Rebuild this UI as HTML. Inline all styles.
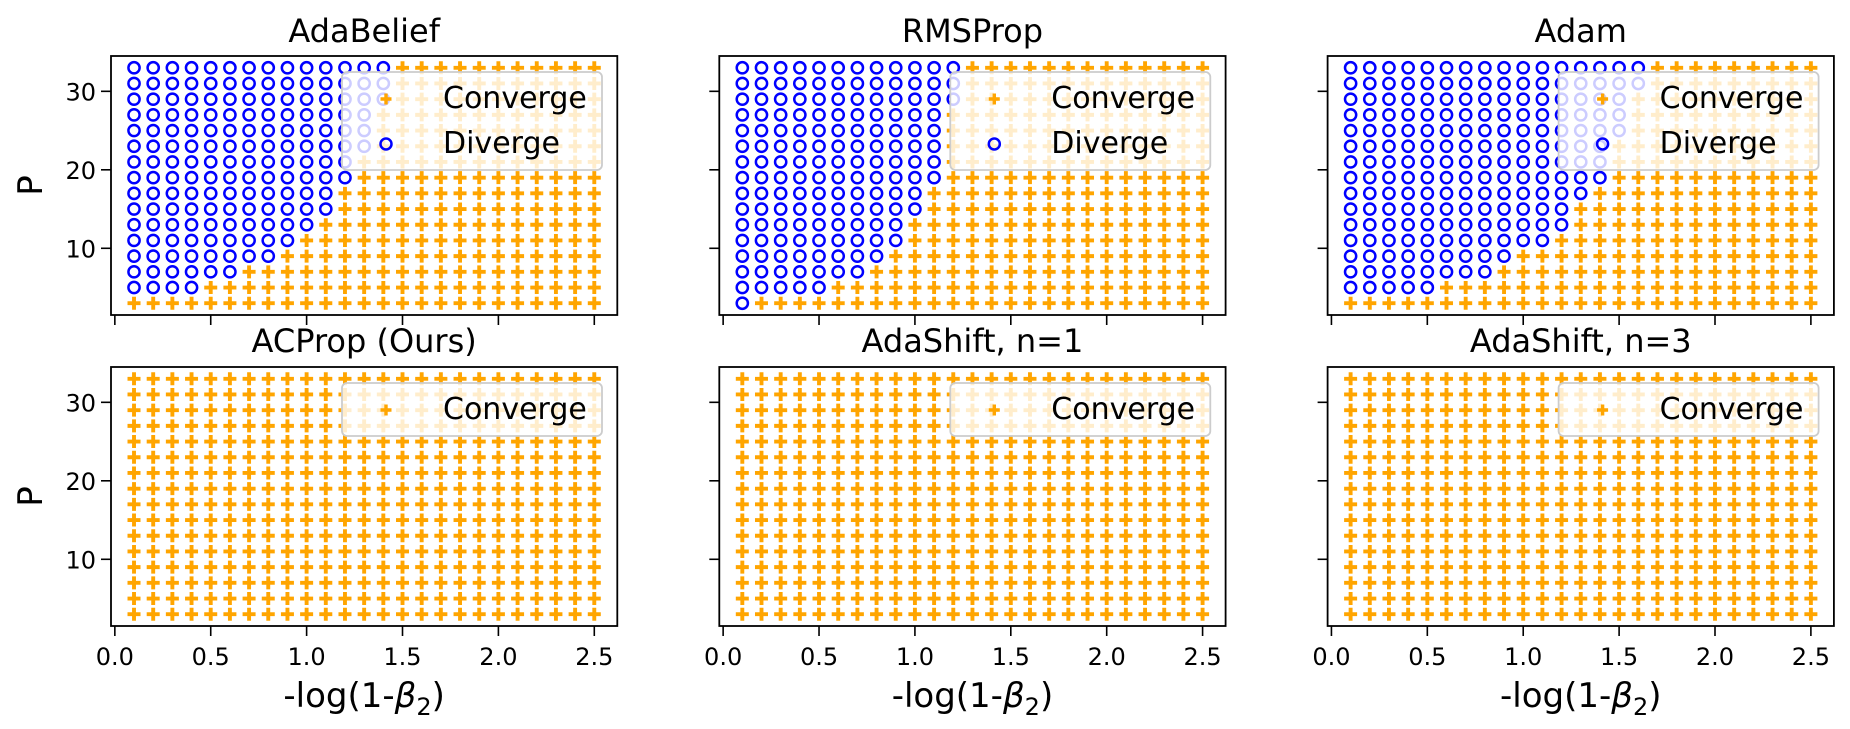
<!DOCTYPE html>
<html><head><meta charset="utf-8"><style>
html,body{margin:0;padding:0;background:#fff;}
svg{display:block;font-family:"DejaVu Sans","Liberation Sans",sans-serif;}
</style></head><body>
<svg id="fig" width="1850" height="729" viewBox="0 0 1850 729" xmlns="http://www.w3.org/2000/svg"></svg>
<script>
// ---- data ----
const xValues = [0.1,0.2,0.3,0.4,0.5,0.6,0.7,0.8,0.9,1.0,1.1,1.2,1.3,1.4,1.5,1.6,1.7,1.8,1.9,2.0,2.1,2.2,2.3,2.4,2.5];
const pValues = [3,5,7,9,11,13,15,17,19,21,23,25,27,29,31,33];
// smallest P that diverges in each column (99 = none diverge)
const divAdaBelief = [5,5,5,5,7,7,9,9,11,13,15,19,23,29,99,99,99,99,99,99,99,99,99,99,99];
const divRMSProp   = [3,5,5,5,5,7,7,9,11,15,19,29,99,99,99,99,99,99,99,99,99,99,99,99,99];
const divAdam      = [5,5,5,5,5,7,7,7,9,11,11,13,17,19,25,31,99,99,99,99,99,99,99,99,99];
const divNone      = [99,99,99,99,99,99,99,99,99,99,99,99,99,99,99,99,99,99,99,99,99,99,99,99,99];
const panelTitles = ["AdaBelief","RMSProp","Adam","ACProp (Ours)","AdaShift, n=1","AdaShift, n=3"];
const xTicks = [0.0,0.5,1.0,1.5,2.0,2.5];
const xTickLabels = ["0.0","0.5","1.0","1.5","2.0","2.5"];
const yTicks = [10,20,30];
const yTickLabels = ["10","20","30"];

const NS = "http://www.w3.org/2000/svg";
const svg = document.getElementById("fig");
function mk(tag, attrs, parent){const e=document.createElementNS(NS,tag);for(const k in attrs)e.setAttribute(k,attrs[k]);(parent||svg).appendChild(e);return e;}

const lefts=[111,719.3,1327.6], tops=[56,367], W=506.3, H=259;
const xMin=-0.02,xMax=2.62,yMin=1.5,yMax=34.5;
const ORANGE="#ffa500", BLUE="#0000ff";

function plusPath(cx,cy,a,t){return `M${cx-t/2},${cy-a}h${t}v${a-t/2}h${a-t/2}v${t}h${-(a-t/2)}v${a-t/2}h${-t}v${-(a-t/2)}h${-(a-t/2)}v${-t}h${a-t/2}z`;}

const divSets=[divAdaBelief,divRMSProp,divAdam,divNone,divNone,divNone];
const slugs=["adabelief","rmsprop","adam","acprop","adashift-n1","adashift-n3"];

for(let i=0;i<6;i++){
  const row=Math.floor(i/3), col=i%3;
  const L=lefts[col], T=tops[row];
  const sx=v=>L+(v-xMin)/(xMax-xMin)*W;
  const sy=v=>T+H-(v-yMin)/(yMax-yMin)*H;
  const g=mk("g",{});
  
  
  const title=mk("text",{x:L+W/2,y:row===0?42:352,"text-anchor":"middle","font-size":"32"},g);
  title.textContent=panelTitles[i];
  
  
  const marks=mk("g",{},g);
  
  
  const div=divSets[i];
  xValues.forEach((xv,ci)=>{
    pValues.forEach(pv=>{
      const cx=sx(xv), cy=sy(pv);
      if(pv>=div[ci]){
        const c=mk("circle",{cx:cx,cy:cy,r:5.6,fill:"none",stroke:BLUE,"stroke-width":2.5},marks);
        
        
      } else {
        const p=mk("path",{d:plusPath(cx,cy,6.5,3.9),fill:ORANGE},marks);
        
        
      }
    });
  });
  const frame=mk("rect",{x:L,y:T,width:W,height:H,fill:"none",stroke:"#000","stroke-width":1.8},g);
  
  
  xTicks.forEach((tv,k)=>{
    const x=sx(tv);
    const t=mk("line",{x1:x,x2:x,y1:T+H,y2:T+H+10,stroke:"#000","stroke-width":1.6},g);
    
    
    if(row===1){
      const lb=mk("text",{x:x,y:T+H+39,"text-anchor":"middle","font-size":"24"},g);
      lb.textContent=xTickLabels[k];
      
      
    }
  });
  yTicks.forEach((tv,k)=>{
    const y=sy(tv);
    const t=mk("line",{x1:L-10,x2:L,y1:y,y2:y,stroke:"#000","stroke-width":1.6},g);
    
    
    if(col===0){
      const lb=mk("text",{x:L-15,y:y+9,"text-anchor":"end","font-size":"24"},g);
      lb.textContent=yTickLabels[k];
      
      
    }
  });
  if(col===0){
    const yl=mk("text",{x:0,y:0,"text-anchor":"middle","font-size":"34",transform:`translate(42,${T+H/2}) rotate(-90)`},g);
    yl.textContent="P";
    
    
  }
  if(row===1){
    const xl=mk("text",{x:L+W/2,y:707,"text-anchor":"middle","font-size":"34"},g);
    xl.appendChild(document.createTextNode("-log(1-"));
    const b=mk("tspan",{"font-style":"italic"},xl); b.textContent="β";
    const s=mk("tspan",{"font-size":"24",dy:"8"},xl); s.textContent="2";
    const r=mk("tspan",{dy:"-8"},xl); r.textContent=")";
    
    
  }
  // legend
  const two=(row===0);
  const lg=mk("g",{},g);
  
  
  const LX=L+231, LY=T+16, LW=260, LH=two?98:53;
  mk("rect",{x:LX,y:LY,width:LW,height:LH,rx:5,fill:"#fff","fill-opacity":0.8,stroke:"#cccccc","stroke-width":1.8},lg);
  const e1=mk("g",{},lg);
  
  
  mk("path",{d:plusPath(LX+44,LY+27,5.5,3.4),fill:ORANGE},e1);
  const t1=mk("text",{x:LX+101,y:LY+36,"font-size":"30"},e1); t1.textContent="Converge";
  if(two){
    const e2=mk("g",{},lg);
    
    
    mk("circle",{cx:LX+44,cy:LY+72,r:5.5,fill:"none",stroke:BLUE,"stroke-width":2.5},e2);
    const t2=mk("text",{x:LX+101,y:LY+81,"font-size":"30"},e2); t2.textContent="Diverge";
  }
}
</script>
</body></html>
